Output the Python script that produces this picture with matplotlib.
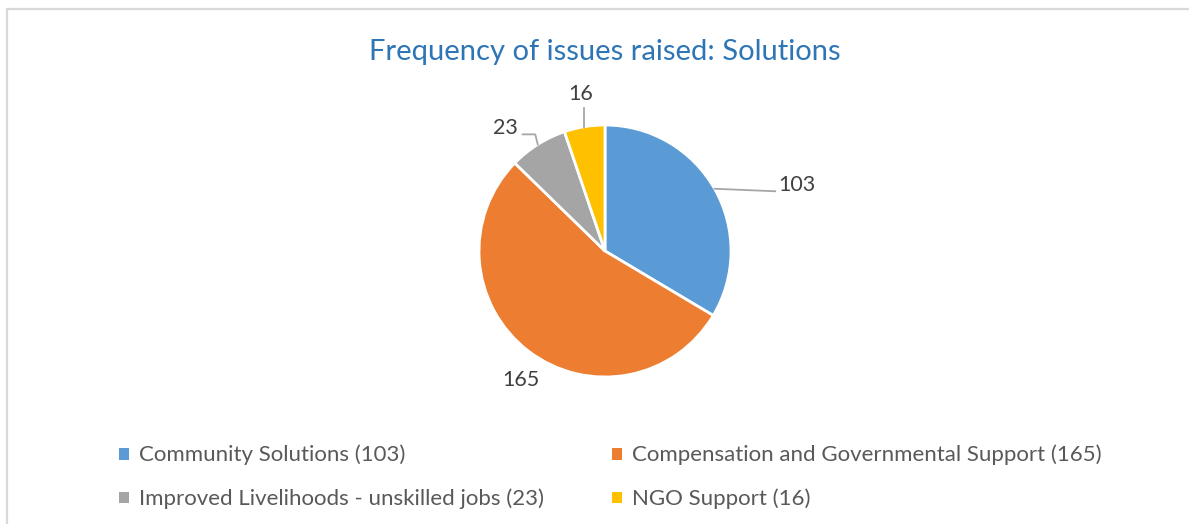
import matplotlib.pyplot as plt
from matplotlib.patches import Patch, Rectangle
import numpy as np

plt.rcParams['font.family'] = ['Lato', 'DejaVu Sans']

categories = ['Community Solutions', 'Compensation and Governmental Support',
              'Improved Livelihoods - unskilled jobs', 'NGO Support']
counts = [103, 165, 23, 16]
colors = ['#5B9BD5', '#ED7D31', '#A5A5A5', '#FFC000']

W, H = 1189, 524
fig = plt.figure(figsize=(W / 100, H / 100), dpi=100)

# chart frame (only left and top edges are inside the canvas)
fig.patches.append(Rectangle((7 / W, -0.1), 1.2, (H - 9) / H + 0.1, transform=fig.transFigure,
                             fill=False, edgecolor='#D9D9D9', lw=1.6))

# pie axes: centre at (605, 251) px, radius 126 px
R = 126.0
cx, cy = 605, 251
left, right, top, bottom = 300, 300, 175, 150
ax = fig.add_axes([(cx - left) / W, (H - cy - bottom) / H, (left + right) / W, (top + bottom) / H])
wedges, _ = ax.pie(counts, colors=colors, startangle=90, counterclock=False, radius=1,
                   wedgeprops=dict(edgecolor='white', linewidth=2))
ax.set_xlim(-left / R, right / R)
ax.set_ylim(-bottom / R, top / R)
ax.set_aspect('equal')
ax.axis('off')

# data labels with leader lines
lc = '#A6A6A6'
tc = '#404040'
fs = 15.5
mids = [np.deg2rad((w.theta1 + w.theta2) / 2) for w in wedges]
edge = [(np.cos(a), np.sin(a)) for a in mids]

# 103
x0, y0 = edge[0]
ax.plot([x0, 1.35], [y0, y0 - 0.02], color=lc, lw=1.3, clip_on=False)
ax.text(1.52, 0.52, str(counts[0]), ha='center', va='center', fontsize=fs, color=tc)
# 165
ax.text(-0.67, -1.02, str(counts[1]), ha='center', va='center', fontsize=fs, color=tc)
# 23
x0, y0 = edge[2]
ax.plot([x0, x0 - 0.02, x0 - 0.12], [y0, y0 + 0.08, y0 + 0.08], color=lc, lw=1.3, clip_on=False)
ax.text(-0.79, 0.98, str(counts[2]), ha='center', va='center', fontsize=fs, color=tc)
# 16
x0, y0 = edge[3]
ax.plot([x0, x0], [y0, y0 + 0.15], color=lc, lw=1.3, clip_on=False)
ax.text(-0.19, 1.25, str(counts[3]), ha='center', va='center', fontsize=fs, color=tc)

fig.text(cx / W, 1 - 52 / H, 'Frequency of issues raised: Solutions', ha='center', va='center',
         fontsize=21, color='#2E75B6')

handles = [Patch(facecolor=c, edgecolor='none') for c in colors]
labels = [f'{n} ({v})' for n, v in zip(categories, counts)]
# row-major order: Community / Compensation, Improved / NGO
order = [0, 2, 1, 3]
leg = fig.legend([handles[i] for i in order], [labels[i] for i in order], ncol=2,
                 loc='upper left', bbox_to_anchor=(110 / W, 1 - 436 / H), frameon=False,
                 fontsize=16, handlelength=0.45, handleheight=0.45, handletextpad=0.45,
                 columnspacing=3.05, labelspacing=1.05, borderaxespad=0)
for t in leg.get_texts():
    t.set_color('#595959')

fig.savefig('out.png', dpi=100)
